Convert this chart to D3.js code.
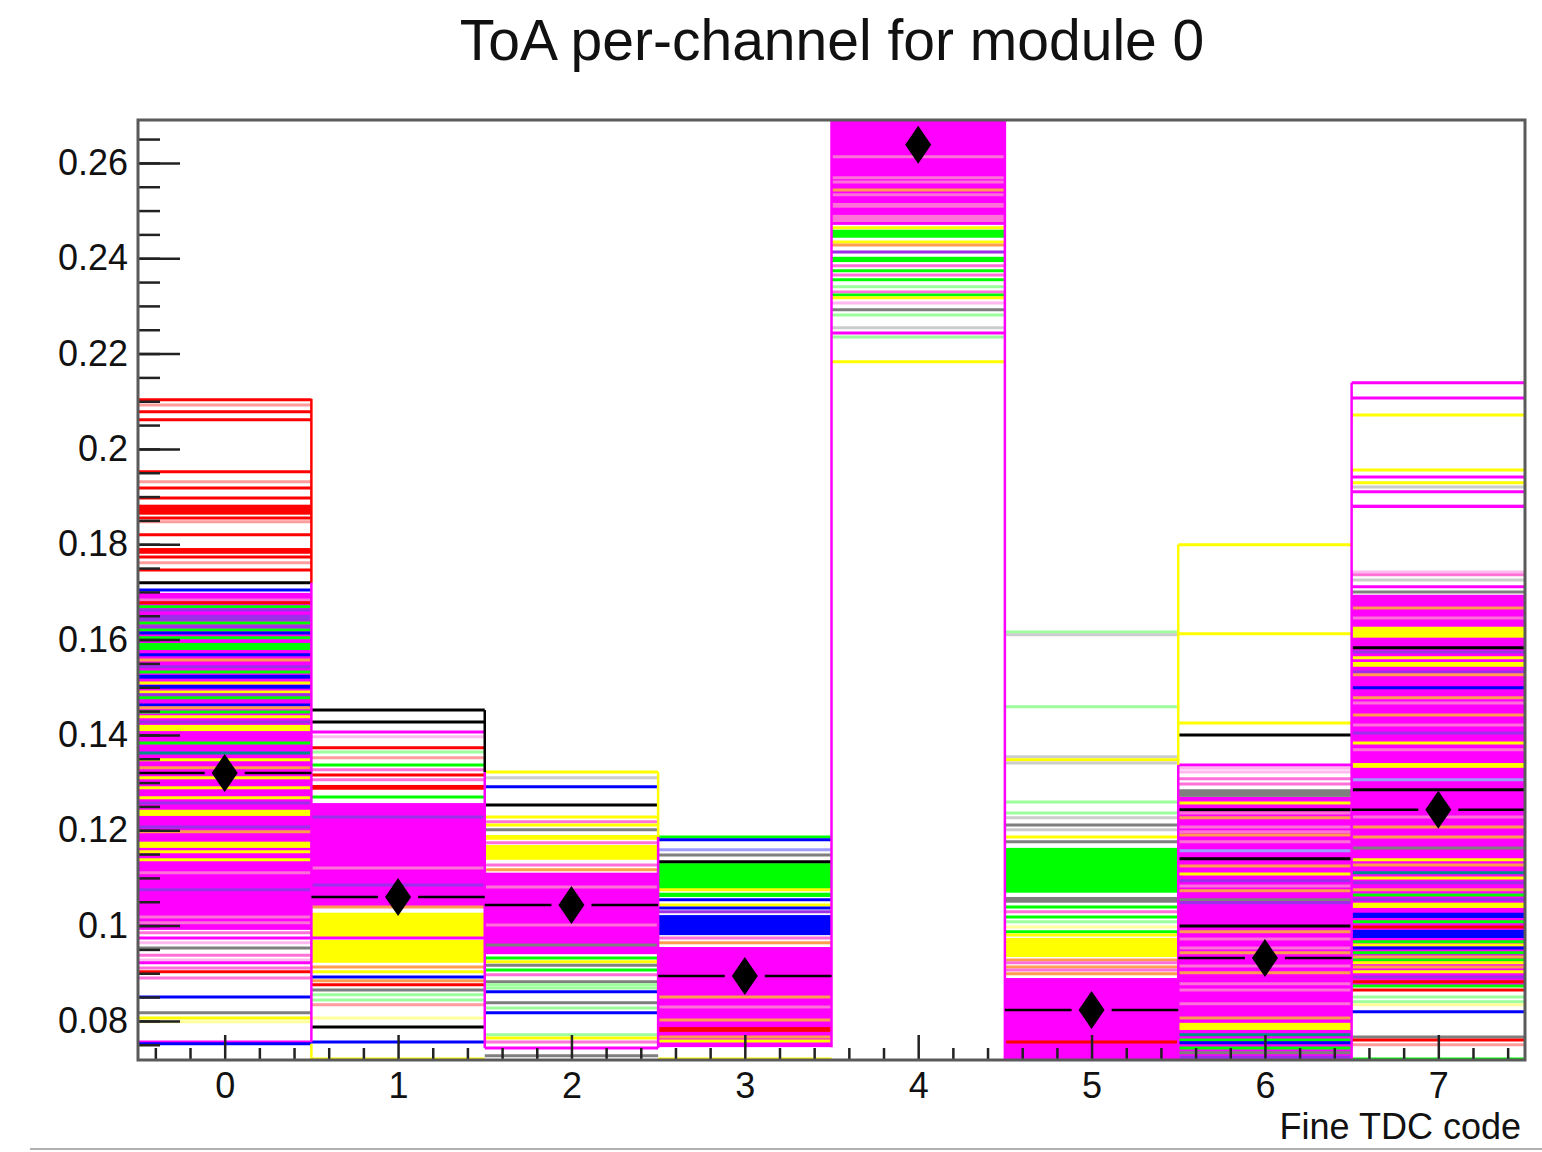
<!DOCTYPE html>
<html>
<head>
<meta charset="utf-8">
<script src="https://cdn.jsdelivr.net/npm/d3@7"></script>
<style>
  body { margin: 0; background: #ffffff; }
  svg { display: block; font-family: "Liberation Sans", Arial, Helvetica, sans-serif; }
</style>
</head>
<body>
<div id="chart"></div>
<script>
// ToA per-channel overlay, one step line per channel

// Fine TDC code bins
const binCodes = [0, 1, 2, 3, 4, 5, 6, 7];
// mean of all channels in each bin (black diamonds)
const binMeans = [0.1320, 0.1060, 0.1043, 0.0894, 0.2638, 0.0823, 0.0932, 0.1243];
// the error bar of bin 4 is hidden under the channel lines
const meanBarShown = [true, true, true, true, false, true, true, true];
const yTickLabels = ['0.08', '0.1', '0.12', '0.14', '0.16', '0.18', '0.2', '0.22', '0.24', '0.26'];

// colour keys of the channel lines as they show up in the picture
const colourKeys = {
  k: '#000000', r: '#ff0000', g: '#00ff00', b: '#0000ff', y: '#ffff00', m: '#ff00ff',
  e: '#7f7f7f', o: '#ff9c50', p: '#ff70d8', u: '#9a30e8', t: '#00908a',
  G: '#9cff9c', P: '#ffb8f0', Y: '#ffff9c', E: '#cccccc', R: '#ff9c9c', B: '#9c9cff'
};

// runs of channels packed so tight they fill a band: [high, low, colour]
const bin0Bands = [[0.1698, 0.0991, 'm'], [0.1883, 0.1862, 'r'], [0.1792, 0.1780, 'r'], [0.1652, 0.1639, 'u'],
  [0.1593, 0.1578, 'g'], [0.1526, 0.1518, 'b'], [0.1505, 0.1497, 'b'], [0.1421, 0.1408, 'y'],
  [0.1243, 0.1230, 'y'], [0.1176, 0.1163, 'y']];
const bin1Bands = [[0.1257, 0.1040, 'm'], [0.1295, 0.1285, 'r'], [0.1027, 0.0976, 'y'], [0.0970, 0.0922, 'y']];
const bin2Bands = [[0.1111, 0.0940, 'm'], [0.1190, 0.1180, 'y'], [0.1169, 0.1138, 'y']];
const bin3Bands = [[0.1131, 0.1075, 'g'], [0.1069, 0.1060, 'g'], [0.1022, 0.0980, 'b'], [0.0955, 0.0745, 'm'],
  [0.0787, 0.0777, 'r']];
const bin4Bands = [[0.2720, 0.2470, 'm'], [0.2516, 0.2506, 'p'], [0.2491, 0.2476, 'p'], [0.2460, 0.2443, 'g'],
  [0.2403, 0.2392, 'g']];
const bin5Bands = [[0.0890, 0.0718, 'm'], [0.1163, 0.1069, 'g'], [0.1060, 0.1048, 'e'], [0.0974, 0.0934, 'y']];
const bin6Bands = [[0.1270, 0.0718, 'm'], [0.1286, 0.1270, 'e'], [0.1043, 0.1014, 'm'], [0.0796, 0.0781, 'y']];
const bin7Bands = [[0.1694, 0.0873, 'm'], [0.1883, 0.1876, 'm'], [0.1627, 0.1604, 'y'], [0.1553, 0.1543, 'y'],
  [0.1341, 0.1331, 'y'], [0.1048, 0.1037, 'y'], [0.1027, 0.1016, 'b'], [0.0991, 0.0974, 'b']];

// single channel levels: [value, colour]
const bin0Lines = [[0.2103, 'r'], [0.2092, 'R'], [0.2078, 'r'], [0.2061, 'r'], [0.1952, 'r'], [0.1931, 'R'],
  [0.1918, 'r'], [0.1897, 'r'], [0.1855, 'r'], [0.1847, 'R'], [0.1820, 'r'], [0.1773, 'r'], [0.1761, 'R'],
  [0.1746, 'r'], [0.1719, 'k'], [0.1704, 'b'], [0.1683, 'p'], [0.1677, 'r'], [0.1669, 'g'], [0.1662, 'u'],
  [0.1635, 'g'], [0.1627, 'u'], [0.1620, 'g'], [0.1614, 'b'], [0.1604, 'g'], [0.1568, 'b'], [0.1557, 'o'],
  [0.1543, 'u'], [0.1532, 'g'], [0.1509, 'y'], [0.1490, 'y'], [0.1484, 'u'], [0.1478, 'g'], [0.1463, 'b'],
  [0.1457, 'o'], [0.1448, 'g'], [0.1438, 'y'], [0.1427, 'u'], [0.1383, 'g'], [0.1362, 't'], [0.1348, 'y'],
  [0.1331, 'o'], [0.1310, 'y'], [0.1289, 'y'], [0.1268, 'y'], [0.1257, 'u'], [0.1207, 'u'], [0.1197, 'o'],
  [0.1155, 'y'], [0.1138, 'y'], [0.1111, 'p'], [0.1075, 'u'], [0.1018, 'p'], [0.1006, 'p'], [0.0985, 'p'],
  [0.0974, 'm'], [0.0964, 'P'], [0.0953, 'e'], [0.0938, 'p'], [0.0928, 'P'], [0.0922, 'm'], [0.0911, 'p'],
  [0.0903, 'r'], [0.0890, 'p'], [0.0850, 'b'], [0.0817, 'e'], [0.0806, 'y'], [0.0798, 'Y'], [0.0756, 'm'],
  [0.0752, 'b']];
const bin1Lines = [[0.1452, 'k'], [0.1427, 'k'], [0.1406, 'm'], [0.1396, 'P'], [0.1373, 'r'], [0.1364, 'G'],
  [0.1352, 'R'], [0.1337, 'g'], [0.1327, 'p'], [0.1316, 'r'], [0.1306, 'p'], [0.1270, 'g'], [0.1228, 'u'],
  [0.1121, 'p'], [0.1085, 'u'], [0.1039, 'o'], [0.0974, 'm'], [0.0913, 'o'], [0.0903, 'y'], [0.0892, 'b'],
  [0.0884, 'o'], [0.0876, 'r'], [0.0865, 'e'], [0.0855, 'G'], [0.0844, 'G'], [0.0834, 'R'], [0.0806, 'Y'],
  [0.0787, 'k'], [0.0756, 'b'], [0.0720, 'y']];
const bin2Lines = [[0.1322, 'y'], [0.1310, 'E'], [0.1291, 'b'], [0.1253, 'k'], [0.1228, 'y'], [0.1218, 'p'],
  [0.1211, 'y'], [0.1201, 'e'], [0.1174, 'p'], [0.1127, 'p'], [0.1117, 'o'], [0.1081, 'p'], [0.1001, 'p'],
  [0.0959, 'e'], [0.0932, 'g'], [0.0924, 'y'], [0.0917, 'e'], [0.0907, 'g'], [0.0897, 'p'], [0.0882, 'e'],
  [0.0876, 'G'], [0.0869, 'G'], [0.0861, 'b'], [0.0838, 'e'], [0.0827, 'G'], [0.0817, 'b'], [0.0771, 'G'],
  [0.0764, 'y'], [0.0756, 'p'], [0.0743, 'm'], [0.0727, 'e']];
const bin3Lines = [[0.1186, 'g'], [0.1180, 'b'], [0.1159, 'B'], [0.1148, 'e'], [0.1134, 'k'], [0.1075, 'y'],
  [0.1054, 'b'], [0.1043, 'y'], [0.1037, 'b'], [0.1029, 'u'], [0.0974, 'p'], [0.0964, 'o'], [0.0850, 'o'],
  [0.0829, 'p'], [0.0802, 'o'], [0.0766, 'o'], [0.0758, 'y'], [0.0720, 'y']];
const bin4Lines = [[0.2613, 'p'], [0.2569, 'p'], [0.2560, 'p'], [0.2543, 'o'], [0.2533, 'p'], [0.2464, 'y'],
  [0.2434, 'y'], [0.2428, 'o'], [0.2413, 'u'], [0.2384, 'p'], [0.2374, 'g'], [0.2365, 'p'], [0.2355, 'g'],
  [0.2340, 'G'], [0.2329, 'p'], [0.2323, 'g'], [0.2317, 'y'], [0.2306, 'P'], [0.2292, 'e'], [0.2281, 'G'],
  [0.2254, 'E'], [0.2243, 'm'], [0.2235, 'G'], [0.2183, 'y']];
const bin5Lines = [[0.1616, 'G'], [0.1610, 'E'], [0.1459, 'G'], [0.1354, 'E'], [0.1348, 'y'], [0.1341, 'E'],
  [0.1259, 'G'], [0.1236, 'G'], [0.1226, 'E'], [0.1211, 'e'], [0.1201, 'E'], [0.1186, 'y'], [0.1176, 'e'],
  [0.1039, 'g'], [0.1029, 'p'], [0.1018, 'g'], [0.1008, 'G'], [0.0997, 'Y'], [0.0987, 'g'], [0.0980, 'y'],
  [0.0928, 'o'], [0.0922, 'p'], [0.0913, 'o'], [0.0907, 'p'], [0.0899, 'o'], [0.0756, 'r']];
const bin6Lines = [[0.1799, 'y'], [0.1612, 'y'], [0.1425, 'y'], [0.1400, 'k'], [0.1337, 'm'], [0.1330, 'P'],
  [0.1322, 'P'], [0.1308, 'p'], [0.1297, 'p'], [0.1257, 'y'], [0.1243, 'k'], [0.1236, 'p'], [0.1226, 'o'],
  [0.1207, 'p'], [0.1197, 'p'], [0.1190, 'o'], [0.1176, 'p'], [0.1157, 'B'], [0.1140, 'k'], [0.1125, 'o'],
  [0.1108, 'y'], [0.1094, 'u'], [0.1083, 'p'], [0.1073, 'o'], [0.1054, 'e'], [0.1048, 'u'], [0.0999, 'k'],
  [0.0987, 'o'], [0.0972, 'p'], [0.0953, 'p'], [0.0943, 'o'], [0.0915, 'p'], [0.0901, 'o'], [0.0878, 'p'],
  [0.0865, 'p'], [0.0836, 'p'], [0.0806, 'o'], [0.0771, 't'], [0.0760, 'g'], [0.0754, 'b'], [0.0743, 'g'],
  [0.0733, 'e'], [0.0724, 'u']];
const bin7Lines = [[0.2139, 'm'], [0.2107, 'm'], [0.2071, 'y'], [0.1956, 'y'], [0.1941, 'm'], [0.1929, 'y'],
  [0.1920, 'E'], [0.1910, 'm'], [0.1742, 'P'], [0.1736, 'p'], [0.1725, 'E'], [0.1711, 'm'], [0.1700, 'e'],
  [0.1666, 'o'], [0.1645, 'p'], [0.1583, 'k'], [0.1574, 'u'], [0.1562, 'y'], [0.1532, 'u'], [0.1526, 'o'],
  [0.1499, 'b'], [0.1478, 'o'], [0.1467, 'p'], [0.1442, 'o'], [0.1421, 'p'], [0.1404, 'u'], [0.1383, 'y'],
  [0.1369, 'p'], [0.1306, 'B'], [0.1285, 'k'], [0.1228, 'p'], [0.1207, 'o'], [0.1186, 'o'], [0.1163, 'e'],
  [0.1138, 'y'], [0.1127, 'o'], [0.1111, 't'], [0.1100, 'y'], [0.1090, 'u'], [0.1075, 'o'], [0.1064, 'g'],
  [0.1054, 'u'], [0.1008, 'g'], [0.0997, 'r'], [0.0966, 'g'], [0.0959, 'y'], [0.0953, 'b'], [0.0943, 'g'],
  [0.0934, 'o'], [0.0928, 'g'], [0.0922, 'y'], [0.0913, 'o'], [0.0903, 'y'], [0.0892, 'u'], [0.0882, 'r'],
  [0.0873, 'g'], [0.0865, 'r'], [0.0850, 'G'], [0.0840, 'G'], [0.0834, 'Y'], [0.0819, 'b'], [0.0766, 'e'],
  [0.0760, 'r'], [0.0750, 'R'], [0.0720, 'g']];

// vertical risers on the bin edges: [edge, high, low, colour]
const edgeRisers = [[0.5, 0.2105, 0.1719, 'r'], [0.5, 0.1719, 0.0756, 'm'], [0.5, 0.0752, 0.0718, 'y'],
  [1.5, 0.1452, 0.1322, 'k'], [1.5, 0.1322, 0.0743, 'm'],
  [2.5, 0.1322, 0.1186, 'y'], [2.5, 0.1186, 0.0743, 'm'],
  [3.5, 0.2720, 0.0745, 'm'], [4.5, 0.2720, 0.0718, 'm'],
  [5.5, 0.1799, 0.1337, 'y'], [5.5, 0.1337, 0.0718, 'm'], [6.5, 0.2139, 0.0718, 'm']];

const allBands = [bin0Bands, bin1Bands, bin2Bands, bin3Bands, bin4Bands, bin5Bands, bin6Bands, bin7Bands];
const allLines = [bin0Lines, bin1Lines, bin2Lines, bin3Lines, bin4Lines, bin5Lines, bin6Lines, bin7Lines];

function drawChart() {
  const width = 1542;
  const height = 1152;
  const left = 138, right = 1525, top = 120, bottom = 1060;

  const x = d3.scaleLinear().domain([-0.5, 7.5]).range([left, right]);
  const y = d3.scaleLinear().domain([0.0718, 0.269]).range([bottom, top]);
  const colour = k => colourKeys[k];

  const svg = d3.select('#chart').append('svg')
    .attr('width', width)
    .attr('height', height);

  svg.append('defs').append('clipPath').attr('id', 'plot')
    .append('rect').attr('x', left).attr('y', top)
    .attr('width', right - left).attr('height', bottom - top);

  const plot = svg.append('g').attr('clip-path', 'url(#plot)');

  // one group per bin: bands first, then the single levels on top
  binCodes.forEach(i => {
    const g = plot.append('g');
    g.selectAll('rect')
      .data(allBands[i])
      .enter().append('rect')
      .attr('x', x(i - 0.5))
      .attr('width', x(i + 0.5) - x(i - 0.5))
      .attr('y', d => y(d[0]))
      .attr('height', d => y(d[1]) - y(d[0]))
      .attr('fill', d => colour(d[2]));
    g.selectAll('line')
      .data(allLines[i])
      .enter().append('line')
      .attr('x1', x(i - 0.5))
      .attr('x2', x(i + 0.5))
      .attr('y1', d => y(d[0]))
      .attr('y2', d => y(d[0]))
      .attr('stroke', d => colour(d[1]))
      .attr('stroke-width', 3);
  });

  // risers between bins
  plot.selectAll('.riser')
    .data(edgeRisers)
    .enter().append('line')
    .attr('class', 'riser')
    .attr('x1', d => x(d[0]))
    .attr('x2', d => x(d[0]))
    .attr('y1', d => y(d[1]))
    .attr('y2', d => y(d[2]))
    .attr('stroke', d => colour(d[3]))
    .attr('stroke-width', 2.5);

  // mean markers with horizontal error bars, the bar stops short of the diamond
  const gap = 20;
  const means = plot.selectAll('.mean')
    .data(binCodes)
    .enter().append('g')
    .attr('class', 'mean');
  const bars = means.filter(i => meanBarShown[i]);
  bars.append('line')
    .attr('x1', i => x(i - 0.5)).attr('x2', i => x(i) - gap)
    .attr('y1', i => y(binMeans[i])).attr('y2', i => y(binMeans[i]))
    .attr('stroke', '#000').attr('stroke-width', 2.5);
  bars.append('line')
    .attr('x1', i => x(i) + gap).attr('x2', i => x(i + 0.5))
    .attr('y1', i => y(binMeans[i])).attr('y2', i => y(binMeans[i]))
    .attr('stroke', '#000').attr('stroke-width', 2.5);
  means.append('path')
    .attr('transform', i => `translate(${x(i)},${y(binMeans[i])})`)
    .attr('d', 'M0,-19L13,0L0,19L-13,0Z')
    .attr('fill', '#000');

  // y axis: long ticks every 0.02, short every 0.005, ticks point into the frame
  const yMajor = d3.range(0, yTickLabels.length).map(i => 0.08 + i * 0.02);
  const yMinor = d3.range(0, 40).map(i => 0.075 + i * 0.005).filter(v => v < 0.269);
  svg.append('g')
    .attr('transform', `translate(${left},0)`)
    .call(d3.axisLeft(y).tickValues(yMinor).tickSize(-22).tickFormat(''))
    .call(a => a.select('.domain').remove())
    .selectAll('line').attr('stroke', '#222').attr('stroke-width', 2.5);
  const yAxis = svg.append('g')
    .attr('transform', `translate(${left},0)`)
    .call(d3.axisLeft(y).tickValues(yMajor).tickSize(-42).tickPadding(10)
      .tickFormat((d, i) => yTickLabels[i]));
  yAxis.select('.domain').remove();
  yAxis.selectAll('line').attr('stroke', '#222').attr('stroke-width', 2.5);
  yAxis.selectAll('text').attr('font-size', 36).attr('fill', '#111')
    .attr('font-family', '"Liberation Sans", Arial, sans-serif');

  // x axis: labelled ticks on the codes, short ticks every 0.2
  const xMinor = d3.range(-2, 38).map(i => i * 0.2).filter(v => Math.abs(v - Math.round(v)) > 0.01 && v < 7.5);
  svg.append('g')
    .attr('transform', `translate(0,${bottom})`)
    .call(d3.axisBottom(x).tickValues(xMinor).tickSize(-12).tickFormat(''))
    .call(a => a.select('.domain').remove())
    .selectAll('line').attr('stroke', '#222').attr('stroke-width', 2.5);
  const xAxis = svg.append('g')
    .attr('transform', `translate(0,${bottom})`)
    .call(d3.axisBottom(x).tickValues(binCodes).tickSize(-25).tickPadding(12));
  xAxis.select('.domain').remove();
  xAxis.selectAll('line').attr('stroke', '#222').attr('stroke-width', 2.5);
  xAxis.selectAll('text').attr('font-size', 36).attr('fill', '#111')
    .attr('font-family', '"Liberation Sans", Arial, sans-serif');

  // frame
  svg.append('rect')
    .attr('x', left).attr('y', top)
    .attr('width', right - left).attr('height', bottom - top)
    .attr('fill', 'none').attr('stroke', '#5a5a5a').attr('stroke-width', 3);

  // title and axis title
  svg.append('text')
    .attr('x', 832).attr('y', 60)
    .attr('text-anchor', 'middle')
    .attr('font-size', 57)
    .attr('fill', '#111')
    .text('ToA per-channel for module 0');
  svg.append('text')
    .attr('x', right - 4).attr('y', 1139)
    .attr('text-anchor', 'end')
    .attr('font-size', 36)
    .attr('fill', '#111')
    .text('Fine TDC code');

  // thin border line at the foot of the canvas
  svg.append('line')
    .attr('x1', 30).attr('x2', width)
    .attr('y1', 1149).attr('y2', 1149)
    .attr('stroke', '#b0b0b0').attr('stroke-width', 2);
}

drawChart();
</script>
</body>
</html>
